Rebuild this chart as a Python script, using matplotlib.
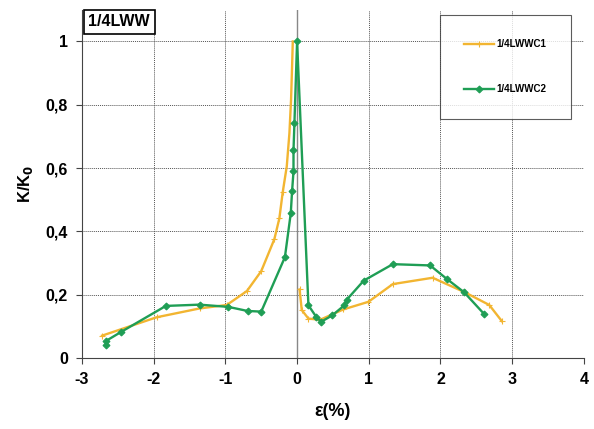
import numpy as np
import matplotlib
matplotlib.use("Agg")
import matplotlib.pyplot as plt
from matplotlib.ticker import FuncFormatter

plt.rcParams['font.family'] = ['Liberation Sans', 'DejaVu Sans']
plt.rcParams['axes.unicode_minus'] = False

# Strain (%) and normalised stiffness K/K0 for the two specimens
c1_strain_neg = [-2.72, -1.96, -1.36, -0.98, -0.70, -0.50, -0.317, -0.247, -0.20,
                 -0.144, -0.107, -0.084, -0.07, -0.06]
c1_k_neg = [0.070, 0.128, 0.156, 0.167, 0.211, 0.274, 0.375, 0.441, 0.524,
            0.605, 0.71, 0.816, 0.92, 1.0]
c1_strain_pos = [0.035, 0.065, 0.158, 0.32, 0.646, 0.995, 1.335, 1.89, 2.34, 2.68, 2.855]
c1_k_pos = [0.216, 0.151, 0.124, 0.12, 0.153, 0.177, 0.233, 0.253, 0.207, 0.167, 0.116]

c2_strain = [-2.66, -2.66, -2.46, -1.83, -1.36, -0.96, -0.69, -0.50, -0.17, -0.088,
             -0.07, -0.05, -0.05, -0.037, 0.0, 0.158, 0.265, 0.337, 0.49, 0.66,
             0.69, 0.93, 1.335, 1.855, 2.09, 2.33, 2.61]
c2_k = [0.040, 0.054, 0.081, 0.164, 0.168, 0.161, 0.148, 0.146, 0.318, 0.457,
        0.526, 0.589, 0.656, 0.742, 1.0, 0.166, 0.13, 0.114, 0.134, 0.166,
        0.183, 0.244, 0.296, 0.292, 0.249, 0.207, 0.138]

series_names = ["1/4LWWC1", "1/4LWWC2"]
panel_title = "1/4LWW"

yellow = '#F2B531'
green = '#1F9E55'

fig = plt.figure(figsize=(5.94, 4.29), dpi=100)
ax = fig.add_axes([0.138, 0.166, 0.845, 0.811])

ax.set_xlim(-3, 4)
ax.set_ylim(0, 1.1)
ax.set_xticks(range(-3, 5))
ax.set_yticks(np.arange(0, 1.01, 0.2))

ax.grid(True, color='#555555', linestyle=(0, (1, 1)), linewidth=0.7)
ax.axvline(0, color='#888888', linewidth=1.0, zorder=1)
ax.set_axisbelow(True)

# specimen C1: two loading branches with a gap between them
c1_x = c1_strain_neg + [np.nan] + c1_strain_pos
c1_y = c1_k_neg + [np.nan] + c1_k_pos
c1_marked = [i for i in range(len(c1_x)) if not (9 <= i <= 13)]
ax.plot(c1_x, c1_y, color=yellow, linewidth=1.7, marker='+', markersize=4,
        markeredgewidth=0.8, markevery=c1_marked, label=series_names[0], zorder=3)
ax.plot(c2_strain, c2_k, color=green, linewidth=1.7, marker='D', markersize=3.5,
        markeredgewidth=0.8, label=series_names[1], zorder=4)

for side in ['top', 'right']:
    ax.spines[side].set_visible(False)
ax.spines['left'].set_color('#444444')
ax.spines['bottom'].set_color('#444444')
ax.tick_params(axis='both', length=4, color='#444444', labelsize=11.5, pad=6)
for lbl in ax.get_xticklabels() + ax.get_yticklabels():
    lbl.set_fontweight('bold')


def comma_fmt(v, pos):
    if abs(v - round(v)) < 1e-9:
        return str(int(round(v)))
    return f"{v:.1f}".replace('.', ',')


ax.yaxis.set_major_formatter(FuncFormatter(comma_fmt))

ax.set_xlabel("ε(%)", fontsize=13, fontweight='bold', labelpad=12)
ax.set_ylabel("K/K$_\\mathbf{0}$", fontsize=12, fontweight='bold', labelpad=8)

ax.text(0.013, 0.987, panel_title, transform=ax.transAxes, fontsize=11.5,
        fontweight='bold', va='top', ha='left',
        bbox=dict(boxstyle='square,pad=0.3', fc='white', ec='black', lw=1.2))

leg = ax.legend(loc='upper right', bbox_to_anchor=(0.974, 0.985), frameon=True,
                fancybox=False, edgecolor='#333333',
                labelspacing=3.6, borderpad=2.5, handlelength=3.0,
                handletextpad=0.3, borderaxespad=0,
                prop={'weight': 'bold', 'size': 7})
leg.get_frame().set_linewidth(0.8)

fig.savefig("out.png", dpi=100)
